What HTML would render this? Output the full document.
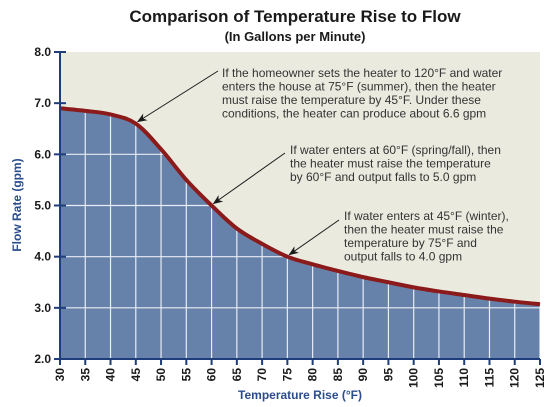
<!DOCTYPE html>
<html><head><meta charset="utf-8"><style>
body{margin:0;background:#fff;}
svg{display:block;font-family:"Liberation Sans",sans-serif;}
</style></head><body>
<svg id="c" width="550" height="407">
<text x="295" y="22" text-anchor="middle" font-size="17" font-weight="bold" fill="#1a1a1a">Comparison of Temperature Rise to Flow</text>
<text x="295" y="41" text-anchor="middle" font-size="13" font-weight="bold" fill="#1a1a1a">(In Gallons per Minute)</text>
<rect x="60" y="52" width="480" height="307" fill="#ebeadf"/>
<defs><clipPath id="fc"><path id="fcp"/></clipPath>
<marker id="ah" markerWidth="10" markerHeight="8" refX="9" refY="4" orient="auto"><path d="M0,0 L10,4 L0,8 L3,4 Z" fill="#1a1a1a"/></marker></defs>
<g id="plot"></g>
<g id="ann" font-size="12" fill="#333">
<text x="222" y="77"><tspan x="222">If the homeowner sets the heater to 120°F and water</tspan><tspan x="222" dy="13.5">enters the house at 75°F (summer), then the heater</tspan><tspan x="222" dy="13.5">must raise the temperature by 45°F. Under these</tspan><tspan x="222" dy="13.5">conditions, the heater can produce about 6.6 gpm</tspan></text>
<text x="290" y="154"><tspan x="290">If water enters at 60°F (spring/fall), then</tspan><tspan x="290" dy="13.5">the heater must raise the temperature</tspan><tspan x="290" dy="13.5">by 60°F and output falls to 5.0 gpm</tspan></text>
<text x="344" y="220"><tspan x="344">If water enters at 45°F (winter),</tspan><tspan x="344" dy="13.5">then the heater must raise the</tspan><tspan x="344" dy="13.5">temperature by 75°F and</tspan><tspan x="344" dy="13.5">output falls to 4.0 gpm</tspan></text>
</g>
<text x="0" y="0" transform="translate(21,205) rotate(-90)" text-anchor="middle" font-size="12" font-weight="bold" fill="#2b4d8c">Flow Rate (gpm)</text>
<text x="300" y="399" text-anchor="middle" font-size="12" font-weight="bold" fill="#2b4d8c">Temperature Rise (°F)</text>
</svg>
<script>
const xTicks=[30,35,40,45,50,55,60,65,70,75,80,85,90,95,100,105,110,115,120,125];
const yTicks=[2,3,4,5,6,7,8];
const temps=[30,35,40,45,50,55,60,65,70,75,80,85,90,95,100,105,110,115,120,125];
const flows=[6.9,6.85,6.78,6.6,6.1,5.5,5.0,4.55,4.25,4.0,3.85,3.72,3.6,3.5,3.4,3.32,3.25,3.18,3.12,3.07];
const annTemps=[45,60,75];
const annFlows=[6.6,5.0,4.0];
const annStart=[[218,71],[285,153],[339,220]];
const NS="http://www.w3.org/2000/svg";
const X=v=>60+(v-30)*480/95;
const Y=v=>359-(v-2)*307/6;
const g=document.getElementById('plot');
function mk(t,a,p){const e=document.createElementNS(NS,t);for(const k in a)e.setAttribute(k,a[k]);(p||g).appendChild(e);return e;}
let pts=temps.map((t,i)=>[X(t),Y(flows[i])]);
let d="M"+pts[0][0]+","+pts[0][1];
for(let i=0;i<pts.length-1;i++){const p0=pts[i-1]||pts[i],p1=pts[i],p2=pts[i+1],p3=pts[i+2]||p2;
d+=" C"+(p1[0]+(p2[0]-p0[0])/6)+","+(p1[1]+(p2[1]-p0[1])/6)+" "+(p2[0]-(p3[0]-p1[0])/6)+","+(p2[1]-(p3[1]-p1[1])/6)+" "+p2[0]+","+p2[1];}
const area=mk('path',{d:d+" L"+X(125)+","+Y(2)+" L"+X(30)+","+Y(2)+" Z",fill:"#6682ab"});


document.getElementById('fcp').setAttribute('d',d+" L"+X(125)+","+Y(2)+" L"+X(30)+","+Y(2)+" Z");
const grid=mk('g',{'clip-path':'url(#fc)',stroke:'#e8ecf4','stroke-width':1.2});


xTicks.forEach(t=>mk('line',{x1:X(t),x2:X(t),y1:52,y2:359},grid));
yTicks.forEach(t=>mk('line',{x1:60,x2:540,y1:Y(t),y2:Y(t)},grid));
const line=mk('path',{d:d,fill:'none',stroke:'#8b1a1a','stroke-width':4});


mk('line',{x1:60,x2:60,y1:52,y2:360,stroke:'#1f3d7a','stroke-width':2});
mk('line',{x1:59,x2:540,y1:359,y2:359,stroke:'#1f3d7a','stroke-width':2});
yTicks.forEach(t=>{mk('line',{x1:54,x2:66,y1:Y(t),y2:Y(t),stroke:'#1f3d7a','stroke-width':2});
const tx=mk('text',{x:51,y:Y(t)+4,'text-anchor':'end','font-size':12,'font-weight':'bold',fill:'#1a1a1a'});tx.textContent=t.toFixed(1);

});
xTicks.forEach(t=>{mk('line',{x1:X(t),x2:X(t),y1:359,y2:365,stroke:'#1f3d7a','stroke-width':2});
const tx=mk('text',{x:0,y:0,transform:`translate(${X(t)+4},368) rotate(-90)`,'text-anchor':'end','font-size':12,'font-weight':'bold',fill:'#1a1a1a'});tx.textContent=t;

});
annTemps.forEach((t,i)=>{const a=mk('line',{x1:annStart[i][0],y1:annStart[i][1],x2:X(t)+2,y2:Y(annFlows[i])-2,stroke:'#1a1a1a','stroke-width':1,'marker-end':'url(#ah)'});

});
</script>
</body></html>
